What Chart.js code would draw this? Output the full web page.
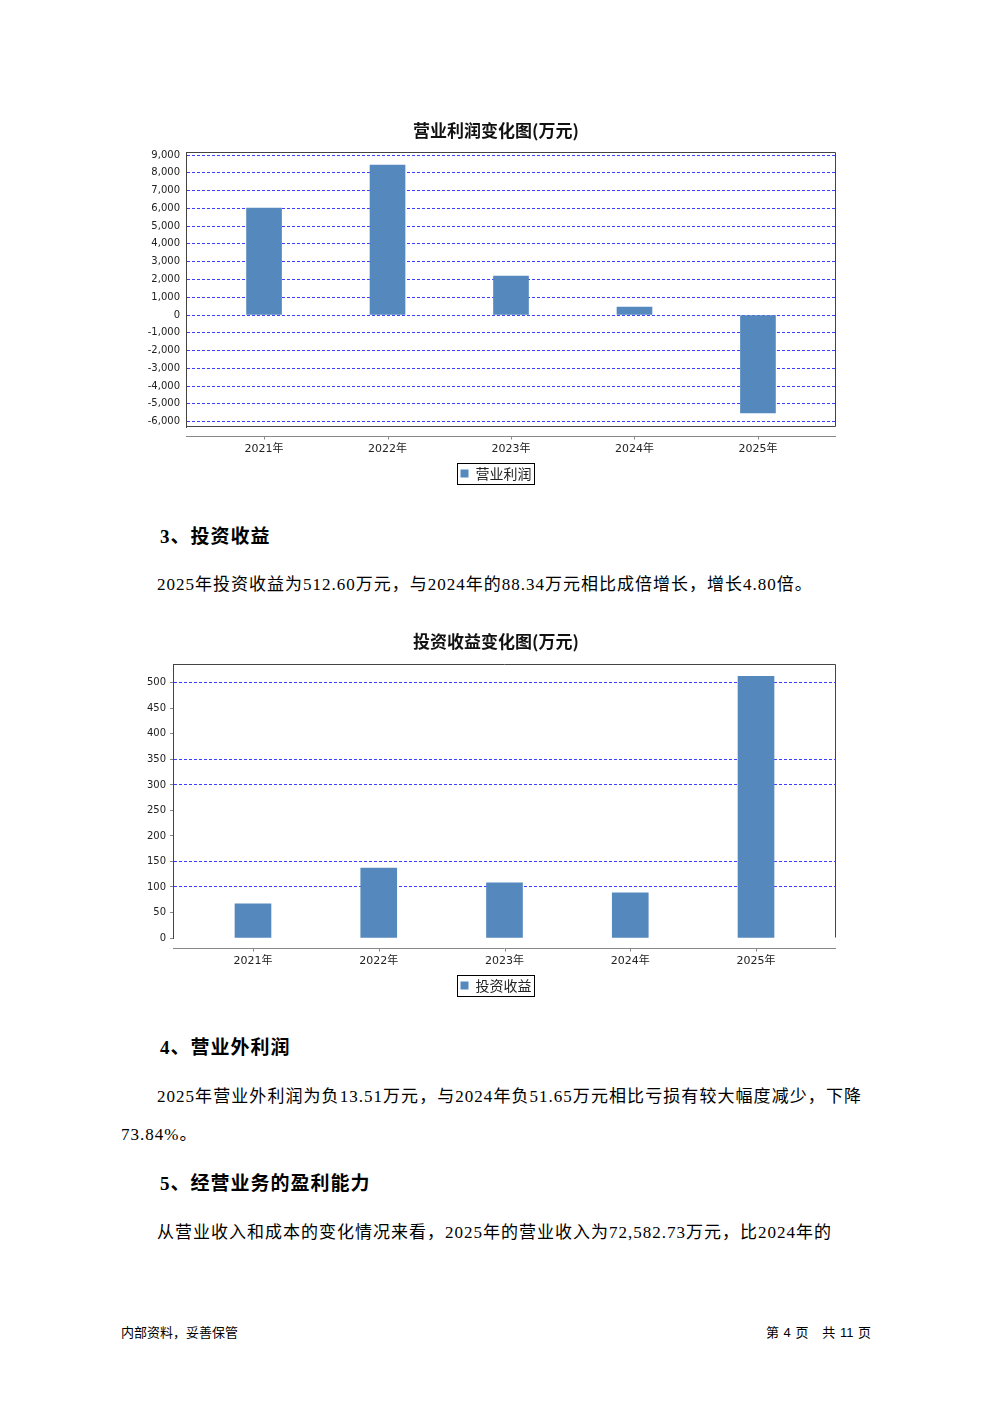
<!DOCTYPE html>
<html><head><meta charset="utf-8">
<script src="https://cdn.jsdelivr.net/npm/chart.js@4.4.1/dist/chart.umd.min.js"></script>
<style>
html,body{margin:0;padding:0;background:#fff;}
body{width:992px;height:1403px;position:relative;overflow:hidden;font-family:"Liberation Serif","Noto Sans CJK SC",serif;color:#000;}
.abs{position:absolute;white-space:nowrap;}
canvas{position:absolute;left:0;}
.h{font-weight:bold;font-size:19px;line-height:24px;letter-spacing:1px;}
.p{font-size:17px;line-height:24px;letter-spacing:1px;}
.j{white-space:normal;text-align:justify;text-align-last:justify;}
.f{font-family:"Liberation Sans","Noto Sans CJK SC",sans-serif;font-size:13px;line-height:16px;}
</style></head><body>
<canvas id="c1" width="992" height="400" style="top:100px"></canvas>
<div class="abs h" style="left:160px;top:525px">3、投资收益</div>
<div class="abs p" style="left:157px;top:573px">2025年投资收益为512.60万元，与2024年的88.34万元相比成倍增长，增长4.80倍。</div>
<canvas id="c2" width="992" height="400" style="top:612px"></canvas>
<div class="abs h" style="left:160px;top:1036px">4、营业外利润</div>
<div class="abs p j" style="left:157px;top:1085px;width:705px">2025年营业外利润为负13.51万元，与2024年负51.65万元相比亏损有较大幅度减少，下降</div>
<div class="abs p" style="left:121px;top:1123px">73.84%。</div>
<div class="abs h" style="left:160px;top:1172px">5、经营业务的盈利能力</div>
<div class="abs p" style="left:157px;top:1221px">从营业收入和成本的变化情况来看，2025年的营业收入为72,582.73万元，比2024年的</div>
<div class="abs f" style="left:121px;top:1325px">内部资料，妥善保管</div>
<div class="abs f" style="right:121px;top:1325px;word-spacing:1px">第 4 页&nbsp;&nbsp;&nbsp;共 11 页</div>
<script>
// ---- data ----
const categories = ['2021年', '2022年', '2023年', '2024年', '2025年'];
const operatingProfit = [6020, 8440, 2190, 450, -5510];
const investmentIncome = [67, 137, 108, 88.34, 512.60];
const profitTicks = [-6000, -5000, -4000, -3000, -2000, -1000, 0, 1000, 2000, 3000, 4000, 5000, 6000, 7000, 8000, 9000];
const incomeTicks = [0, 50, 100, 150, 200, 250, 300, 350, 400, 450, 500];
const incomeGridShown = [100, 150, 300, 350, 500];

const BAR = '#5589bd';
const GRID = '#3d3dff';
const RIGHT_SPACE = 156;
const fmt = v => v.toLocaleString('en-US');

const framePlugin = {
  id: 'frame',
  afterDraw(chart) {
    const o = chart.options.plugins.frame;
    const a = chart.chartArea, ctx = chart.ctx;
    ctx.save();
    ctx.strokeStyle = '#444'; ctx.lineWidth = 1;
    ctx.beginPath();
    ctx.moveTo(a.left + 0.5, a.top + 0.5); ctx.lineTo(a.right - 0.5, a.top + 0.5);
    ctx.lineTo(a.right - 0.5, a.bottom - 0.5);
    if (o.bottom) ctx.lineTo(a.left + 0.5, a.bottom - 0.5);
    ctx.stroke();
    // detached category axis
    const y = Math.round(a.bottom + o.axisGap) + 0.5;
    ctx.strokeStyle = '#888';
    ctx.beginPath(); ctx.moveTo(a.left, y); ctx.lineTo(a.right, y); ctx.stroke();
    const xs = chart.scales.x;
    categories.forEach((c, i) => {
      const px = Math.round(xs.getPixelForValue(i)) + 0.5;
      ctx.beginPath(); ctx.moveTo(px, y); ctx.lineTo(px, y + 3); ctx.stroke();
    });
    // legend border
    const hb = chart.legend && chart.legend.legendHitBoxes && chart.legend.legendHitBoxes[0];
    if (hb) {
      ctx.strokeStyle = '#000';
      ctx.strokeRect(Math.round(hb.left - 4) + 0.5, Math.round(hb.top - 4) + 0.5, Math.round(hb.width + 6), Math.round(hb.height + 7));
    }
    ctx.restore();
  }
};

function makeChart(id, opt) {
  const ctx = document.getElementById(id);
  return new Chart(ctx, {
    type: 'bar',
    data: {
      datasets: [{
        label: opt.label,
        data: opt.values.map((v, i) => ({x: i, y: v})),
        backgroundColor: BAR,
        borderWidth: 0,
        barThickness: opt.barWidth
      }]
    },
    options: {
      responsive: false,
      animation: false,
      devicePixelRatio: 1,
      layout: {padding: {left: 0, right: 0, top: 0, bottom: opt.padBottom}},
      scales: {
        x: {
          type: 'linear',
          offset: false,
          min: -opt.xMargin, max: categories.length - 1 + opt.xMargin,
          afterBuildTicks: s => { s.ticks = categories.map((c, i) => ({value: i})); },
          afterFit: s => { const ch = s.chart; s.height = ch.height - opt.padBottom - ch.legend.height - opt.areaBottom; },
          grid: {display: false, drawTicks: false},
          border: {display: false},
          ticks: {
            callback: v => categories[v],
            padding: opt.xLabelPad,
            maxRotation: 0, autoSkip: false,
            color: '#222',
            font: {family: '"DejaVu Sans", "Noto Sans CJK SC"', size: 11}
          }
        },
        y: {
          min: opt.yMin, max: opt.yMax,
          afterBuildTicks: s => { s.ticks = opt.ticks.map(v => ({value: v})); },
          afterFit: s => { s.width = opt.axisWidth; },
          grid: {
            color: c => (opt.gridShown ? (opt.gridShown.includes(c.tick.value) ? GRID : 'rgba(0,0,0,0)') : GRID),
            lineWidth: 1,
            drawTicks: opt.tickMarks,
            tickLength: 3,
            tickColor: '#888'
          },
          border: {display: true, color: '#444', width: 1, dash: [3, 2]},
          ticks: {
            callback: v => fmt(v),
            padding: opt.yLabelPad,
            color: '#222',
            font: {family: '"DejaVu Sans"', size: 10}
          }
        },
        spacer: {
          type: 'linear', position: 'right', min: 0, max: 1,
          afterFit: s => { s.width = RIGHT_SPACE; },
          grid: {display: false, drawTicks: false},
          border: {display: false},
          ticks: {display: false}
        }
      },
      plugins: {
        title: {
          display: true, text: opt.title,
          color: '#111',
          font: {family: '"Noto Sans CJK SC", "DejaVu Sans"', size: 17, weight: 'bold', lineHeight: 1.2},
          padding: {top: opt.titleTop, bottom: opt.titleBottom}
        },
        legend: {
          display: true, position: 'bottom',
          labels: {
            boxWidth: 8, boxHeight: 8, padding: 10,
            color: '#222',
            font: {family: '"Noto Sans CJK SC"', size: 14}
          }
        },
        tooltip: {enabled: false},
        frame: {bottom: opt.frameBottom, axisGap: opt.axisGap}
      }
    },
    plugins: [framePlugin]
  });
}

makeChart('c1', {
  title: '营业利润变化图(万元)', label: '营业利润', values: operatingProfit, ticks: profitTicks,
  yMin: -6300, yMax: 9170, xMargin: 0.632, axisWidth: 186, areaBottom: 327, padBottom: 9.5,
  titleTop: 20, titleBottom: 11.6, xLabelPad: 15.5, yLabelPad: 6, tickMarks: false,
  barWidth: 35, frameBottom: true, axisGap: 9, gridShown: null
});
makeChart('c2', {
  title: '投资收益变化图(万元)', label: '投资收益', values: investmentIncome, ticks: incomeTicks,
  yMin: 0, yMax: 537, xMargin: 0.636, axisWidth: 173, areaBottom: 326, padBottom: 9.5,
  titleTop: 19, titleBottom: 12.6, xLabelPad: 16.5, yLabelPad: 4, tickMarks: true,
  barWidth: 36, frameBottom: false, axisGap: 10, gridShown: incomeGridShown
});
</script>
</body></html>
